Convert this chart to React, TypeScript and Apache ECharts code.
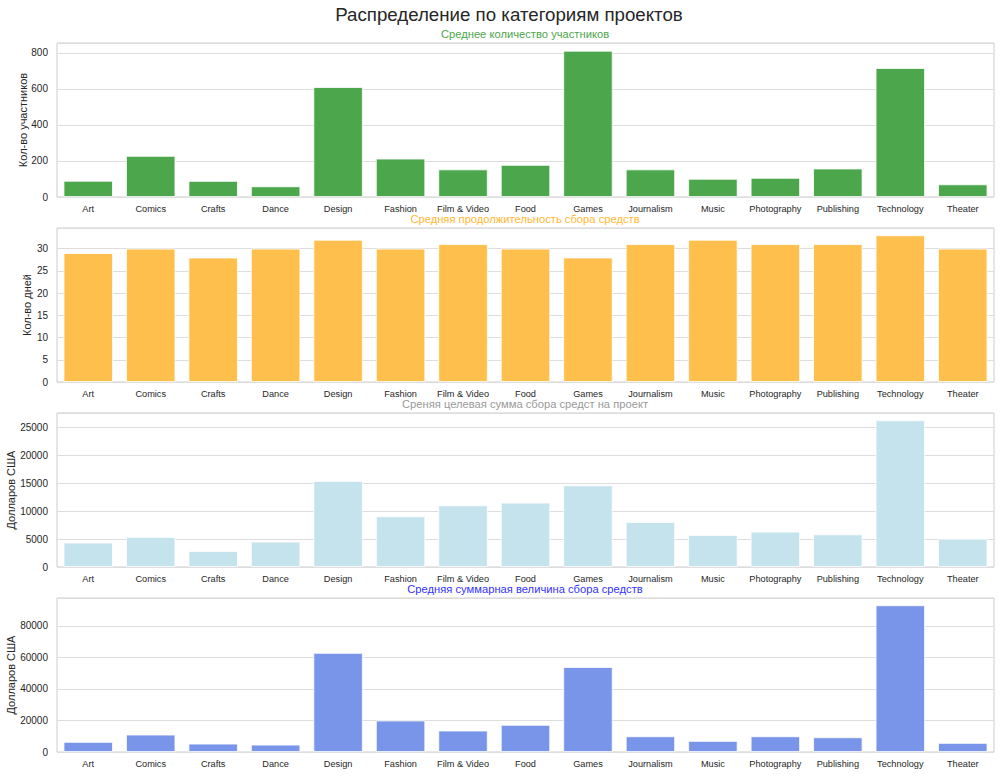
import React, { useEffect, useRef } from "react";
import * as echarts from "echarts";

const categories = [
  "Art", "Comics", "Crafts", "Dance", "Design", "Fashion", "Film & Video", "Food",
  "Games", "Journalism", "Music", "Photography", "Publishing", "Technology", "Theater",
];

const backers = [90, 228, 89, 59, 610, 213, 153, 178, 812, 153, 101, 106, 158, 716, 70];
const durationDays = [29, 30, 28, 30, 32, 30, 31, 30, 28, 31, 32, 31, 31, 33, 30];
const goalUsd = [4360, 5380, 2870, 4540, 15430, 9080, 11050, 11540, 14640, 8070, 5740, 6330, 5850, 26310, 5080];
const pledgedUsd = [6370, 11020, 5290, 4650, 62800, 19940, 13570, 17200, 53890, 9940, 7000, 9940, 9300, 92990, 5730];

const mainTitle = "Распределение по категориям проектов";
const panelTitles = [
  "Среднее количество участников",
  "Средняя продолжительность сбора средств",
  "Среняя целевая сумма сбора средст на проект",
  "Средняя суммарная величина сбора средств",
];
const yNames = ["Кол-во участников", "Кол-во дней", "Долларов США", "Долларов США"];

export default function App() {
  const ref = useRef<HTMLDivElement>(null);
  useEffect(() => {
    document.body.style.margin = "0";
    const chart = echarts.init(ref.current!, undefined, { renderer: "svg" });
    const font = "'Liberation Sans', Arial, sans-serif";
    const panels = [
      { data: backers, max: 855, interval: 200, bar: "#4ca64c", title: "#4ca64c", gap: 29 },
      { data: durationDays, max: 34.65, interval: 5, bar: "#ffbf4c", title: "#ffb733", gap: 25 },
      { data: goalUsd, max: 27630, interval: 5000, bar: "#c5e3ed", title: "#9a9a9a", gap: 41 },
      { data: pledgedUsd, max: 97640, interval: 20000, bar: "#7995e9", title: "#3333ff", gap: 41 },
    ];
    const tops = [43, 228, 413, 598];
    const option: any = {
      animation: false,
      backgroundColor: "#ffffff",
      title: [
        {
          text: mainTitle,
          left: 509,
          top: 5,
          padding: 0,
          textAlign: "center",
          textStyle: { fontFamily: font, fontSize: 18.7, fontWeight: "normal", color: "#262626" },
        },
        ...panelTitles.map((t, i) => ({
          text: t,
          left: 525,
          top: tops[i] - 15,
          padding: 0,
          textAlign: "center",
          textStyle: { fontFamily: font, fontSize: 11.2, fontWeight: "normal", color: panels[i].title },
        })),
      ],
      grid: tops.map((t) => ({
        left: 57,
        right: 6,
        top: t,
        height: 154,
        show: true,
        borderColor: "#cccccc",
        borderWidth: 1,
        backgroundColor: "transparent",
        containLabel: false,
        outerBoundsMode: "none",
      })),
      xAxis: panels.map((_, i) => ({
        type: "category",
        gridIndex: i,
        data: categories,
        axisLine: { show: false },
        axisTick: { show: false },
        splitLine: { show: false },
        axisLabel: { fontFamily: font, fontSize: 9.2, color: "#262626", margin: 7, interval: 0 },
      })),
      yAxis: panels.map((p, i) => ({
        type: "value",
        gridIndex: i,
        min: 0,
        max: p.max,
        interval: p.interval,
        name: yNames[i],
        nameLocation: "middle",
        nameGap: p.gap,
        nameMoveOverlap: false,
        nameTextStyle: { fontFamily: font, fontSize: 11, color: "#262626" },
        axisLine: { show: false },
        axisTick: { show: false },
        splitLine: { show: true, lineStyle: { color: "#dddddd", width: 1 } },
        axisLabel: {
          fontFamily: font,
          fontSize: 10,
          color: "#262626",
          margin: 9,
          formatter: (v: number) => (Math.abs(v / p.interval - Math.round(v / p.interval)) < 1e-9 ? String(v) : ""),
        },
      })),
      series: panels.map((p, i) => ({
        type: "bar",
        xAxisIndex: i,
        yAxisIndex: i,
        data: p.data,
        barCategoryGap: "21%",
        itemStyle: { color: p.bar, borderColor: "#ffffff", borderWidth: 0.8 },
      })),
    };
    chart.setOption(option);
    return () => chart.dispose();
  }, []);
  return <div ref={ref} style={{ width: 1000, height: 776 }} />;
}
